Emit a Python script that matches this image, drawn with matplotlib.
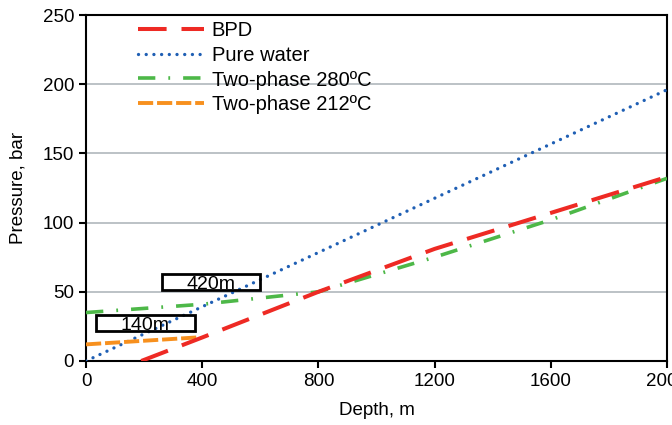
import matplotlib
matplotlib.use("Agg")
import matplotlib.pyplot as plt
from matplotlib.patches import Rectangle

plt.rcParams['font.family'] = ['Liberation Sans', 'DejaVu Sans']

# data
bpd_depth = [190, 400, 800, 1200, 1600, 2000]
bpd_pres = [0, 17, 50, 81, 107, 133]

water_depth = [0, 2000]
water_pres = [0, 196]

tp280_depth = [0, 400, 800, 1200, 1600, 2000]
tp280_pres = [35, 41, 50, 75, 102, 132]

tp212_depth = [0, 380]
tp212_pres = [12, 17]

# annotation boxes: (x0, x1, y0, y1, label)
boxes = [(34, 375, 22, 33, "140m"), (262, 599, 51, 63, "420m")]

fig = plt.figure(figsize=(6.72, 4.25), dpi=100)
ax = fig.add_axes([0.128, 0.1506, 0.8646, 0.8141])

ax.plot(bpd_depth, bpd_pres, color='#ee2a24', lw=2.9, dashes=(7.1, 3.7), label='BPD', zorder=4)
ax.plot(water_depth, water_pres, color='#1f5fb4', lw=2.4, dashes=(0.01, 2.3),
        dash_capstyle='round', label='Pure water', zorder=3)
ax.plot(tp280_depth, tp280_pres, color='#4db848', lw=2.6, dashes=(4.8, 3.6, 0.5, 3.6),
        label='Two-phase 280ºC', zorder=3)
ax.plot(tp212_depth, tp212_pres, color='#f7901e', lw=2.8, dashes=(3.9, 1.0),
        label='Two-phase 212ºC', zorder=3)

for x0, x1, y0, y1, lab in boxes:
    ax.add_patch(Rectangle((x0, y0), x1 - x0, y1 - y0, fill=False, ec='black', lw=2, zorder=5))
    ax.text((x0 + x1) / 2, (y0 + y1) / 2 - 2, lab, ha='center', va='center', fontsize=14, zorder=6)

ax.set_xlim(0, 2000)
ax.set_ylim(0, 250)
ax.set_xticks(range(0, 2001, 400))
ax.set_yticks(range(0, 251, 50))
ax.yaxis.grid(True, color='#b0b8bc', lw=1.2)
ax.set_axisbelow(True)
for s in ax.spines.values():
    s.set_linewidth(1.5)
ax.tick_params(labelsize=13.5, width=1.5, length=5, direction='out')
ax.set_xlabel('Depth, m', fontsize=13.5, labelpad=9)
ax.set_ylabel('Pressure, bar', fontsize=13.5, labelpad=12)

ax.legend(loc='upper left', bbox_to_anchor=(0.0895, 0.982), frameon=False, fontsize=14.5,
          handlelength=3.3, labelspacing=0.28, handletextpad=0.35,
          borderpad=0, borderaxespad=0)

fig.savefig('out.png', dpi=100)
